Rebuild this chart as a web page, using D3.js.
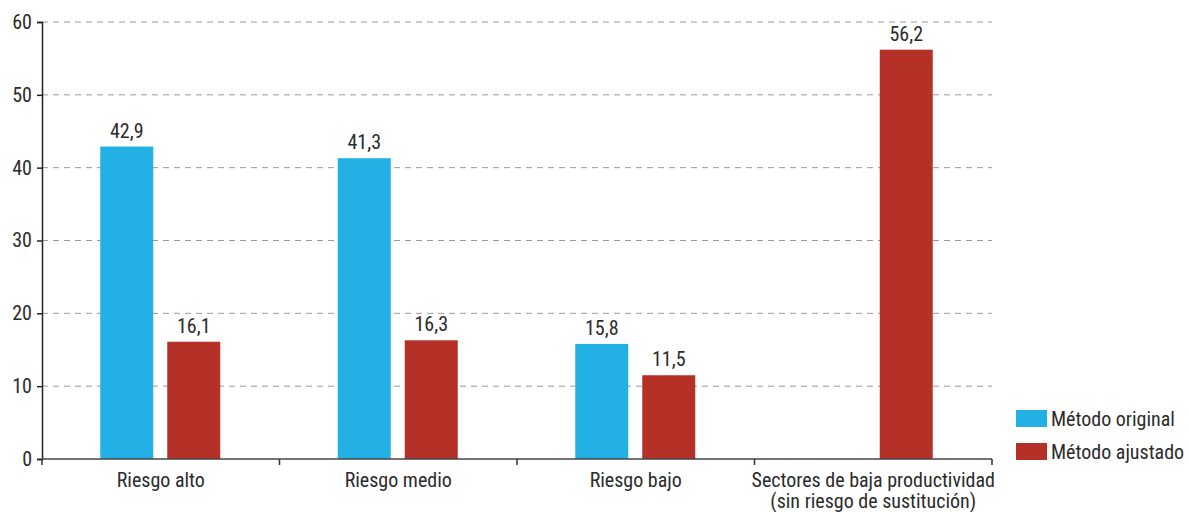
<!DOCTYPE html>
<html><head><meta charset="utf-8">
<script src="https://cdn.jsdelivr.net/npm/d3@7"></script>
<style>
body{margin:0;background:#fff;}
text{font-family:"Roboto Condensed",sans-serif;fill:#2b2b2b;font-weight:400;}
</style></head>
<body><svg id="c" width="1189" height="512"></svg>
<script>
const categories = ["Riesgo alto","Riesgo medio","Riesgo bajo","Sectores de baja productividad\n(sin riesgo de sustitución)"];
const seriesNames = ["Método original","Método ajustado"];
const original = [42.9, 41.3, 15.8, null];
const ajustado = [16.1, 16.3, 11.5, 56.2];
const yTicks = [0,10,20,30,40,50,60];
const colors = ["#23b0e4","#b53127"];

const svg = d3.select("#c");
const L=42, R=992, T=22, B=459;
const FS = 20;
const x = d3.scaleBand().domain(categories).range([L,R]).paddingInner(0).paddingOuter(0);
const y = d3.scaleLinear().domain([0,60]).range([B,T]);
const barW = 53, gap = 14;

// gridlines
svg.append("g").selectAll("line").data(yTicks.filter(d=>d>0)).join("line")
  .attr("x1",L).attr("x2",R).attr("y1",d=>y(d)).attr("y2",d=>y(d))
  .attr("stroke","#9a9a9a").attr("stroke-width",1).attr("stroke-dasharray","6,5");

const data = [original, ajustado];
data.forEach((vals,si)=>{
  const g = svg.append("g");
  const recs = categories.map((c,i)=>({c,v:vals[i]})).filter(d=>d.v!=null);
  const xpos = d=> x(d.c)+x.bandwidth()/2 + (si===0 ? -(gap/2+barW) : gap/2) - 0.5;
  g.selectAll("rect").data(recs).join("rect")
    .attr("x",xpos).attr("width",barW)
    .attr("y",d=>y(d.v)).attr("height",d=>B-y(d.v))
    .attr("fill",colors[si]);
  g.selectAll("text").data(recs).join("text")
    .attr("x",d=>xpos(d)+barW/2).attr("y",d=>y(d.v)-9)
    .attr("text-anchor","middle").attr("font-size",FS)
    .text(d=>d3.format(".1f")(d.v).replace(".",","));
});

// y axis
const ya = svg.append("g").attr("transform",`translate(${L},0)`)
  .call(d3.axisLeft(y).tickValues(yTicks).tickSize(5).tickPadding(5));
ya.select(".domain").attr("stroke","#222").attr("stroke-width",1.5);
ya.selectAll(".tick line").attr("stroke","#222").attr("stroke-width",1.5);
ya.selectAll(".tick text").attr("font-size",FS);

// x axis
const xa = svg.append("g").attr("transform",`translate(0,${B})`);
xa.append("line").attr("x1",L).attr("x2",R).attr("stroke","#444").attr("stroke-width",1.5);
const bounds = categories.map(c=>x(c)).concat([R]);
xa.selectAll("line.t").data(bounds).join("line").attr("class","t")
  .attr("x1",d=>d).attr("x2",d=>d).attr("y1",0).attr("y2",6)
  .attr("stroke","#333").attr("stroke-width",1.5);
xa.selectAll("text").data(categories).join("text")
  .attr("x",d=>x(d)+x.bandwidth()/2).attr("text-anchor","middle").attr("font-size",FS)
  .each(function(d){
    const lines=d.split("\n");
    d3.select(this).selectAll("tspan").data(lines).join("tspan")
      .attr("x",x(d)+x.bandwidth()/2).attr("y",(l,i)=>28+i*20.5).text(l=>l);
  });

// legend
const lg = svg.append("g").attr("transform","translate(1016,410)");
seriesNames.forEach((s,i)=>{
  lg.append("rect").attr("x",0).attr("y",i*33).attr("width",31).attr("height",17).attr("fill",colors[i]);
  lg.append("text").attr("x",35).attr("y",i*33+16).attr("font-size",FS).text(s);
});
</script></body></html>
